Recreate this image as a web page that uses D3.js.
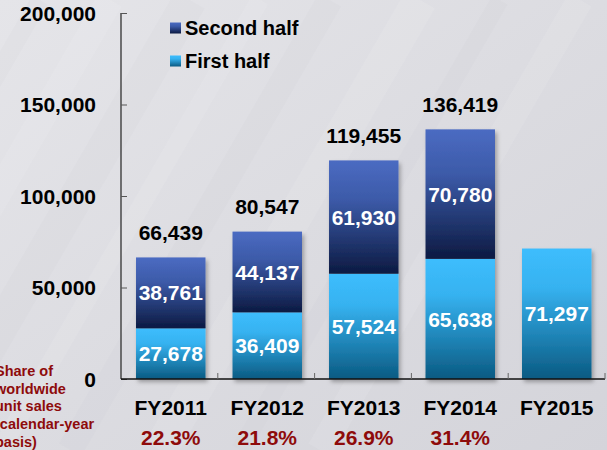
<!DOCTYPE html>
<html><head><meta charset="utf-8">
<script src="https://cdn.jsdelivr.net/npm/d3@7"></script>
<style>html,body{margin:0;padding:0;}svg{display:block;}text{font-family:"Liberation Sans",Arial,sans-serif;font-weight:bold;}</style>
</head><body>
<script>
const categories = ["FY2011","FY2012","FY2013","FY2014","FY2015"];
const firstHalf = [27678, 36409, 57524, 65638, 71297];
const secondHalf = [38761, 44137, 61930, 70780, null];
const totals = [66439, 80547, 119455, 136419, null];
const shares = ["22.3%","21.8%","26.9%","31.4%",""];
const yTicks = [0, 50000, 100000, 150000, 200000];
const seriesNames = ["Second half","First half"];
const noteLines = ["Share of","worldwide","unit sales","(calendar-year","basis)"];

const W = 607, H = 450;
const svg = d3.select("body").append("svg").attr("width", W).attr("height", H);
const defs = svg.append("defs");

const bg = defs.append("linearGradient").attr("id","bg").attr("x1",0).attr("y1",0).attr("x2",1).attr("y2",1);
bg.append("stop").attr("offset","0%").attr("stop-color","#e5e5e9");
bg.append("stop").attr("offset","50%").attr("stop-color","#dcdce1");
bg.append("stop").attr("offset","100%").attr("stop-color","#d4d4da");

const g2 = defs.append("linearGradient").attr("id","gSecond").attr("x1",0).attr("y1",0).attr("x2",0).attr("y2",1);
g2.append("stop").attr("offset","0%").attr("stop-color","#4b6bc2");
g2.append("stop").attr("offset","35%").attr("stop-color","#3c5aa8");
g2.append("stop").attr("offset","100%").attr("stop-color","#0c1a42");
const g1 = defs.append("linearGradient").attr("id","gFirst").attr("x1",0).attr("y1",0).attr("x2",0).attr("y2",1);
g1.append("stop").attr("offset","0%").attr("stop-color","#3dbdfd");
g1.append("stop").attr("offset","30%").attr("stop-color","#36b2f0");
g1.append("stop").attr("offset","100%").attr("stop-color","#0a5a82");

const f = defs.append("filter").attr("id","shadow").attr("x","-20%").attr("y","-20%").attr("width","140%").attr("height","140%");
f.append("feDropShadow").attr("dx",2).attr("dy",3).attr("stdDeviation",2).attr("flood-color","#000").attr("flood-opacity",0.3);

svg.append("rect").attr("width",W).attr("height",H).attr("fill","url(#bg)");
// subtle diagonal streaks
const streaks = svg.append("g").attr("opacity",0.09);
[40,110,190,260,330,420,500,580].forEach((x0,i)=>{
  streaks.append("line").attr("x1",x0).attr("y1",0).attr("x2",x0-260).attr("y2",H)
    .attr("stroke", i%2 ? "#ffffff" : "#c4c4cc").attr("stroke-width", 18 + (i%3)*8);
});

const x = d3.scaleBand().domain(categories).range([122.5, 605]).paddingInner(0.28).paddingOuter(0.14);
const xEdge = d3.scaleBand().domain(categories).range([121, 605]);
const y = d3.scaleLinear().domain([0, 200000]).range([379, 13]);

// bars
const bars = svg.append("g");
categories.forEach((c,i)=>{
  const g = bars.append("g").attr("filter","url(#shadow)");
  const top = (secondHalf[i] != null) ? firstHalf[i] + secondHalf[i] : firstHalf[i];
  g.append("rect").attr("x", x(c)).attr("width", x.bandwidth())
    .attr("y", y(firstHalf[i])).attr("height", y(0) - y(firstHalf[i])).attr("fill","url(#gFirst)");
  if (secondHalf[i] != null) {
    g.append("rect").attr("x", x(c)).attr("width", x.bandwidth())
      .attr("y", y(top)).attr("height", y(firstHalf[i]) - y(top)).attr("fill","url(#gSecond)");
  }
});

// axes
const yAxis = d3.axisRight(y).tickValues(yTicks).tickSize(6).tickFormat("");
const ya = svg.append("g").attr("transform","translate(121,0)").call(yAxis);
ya.select(".domain").attr("d","M0,13V379").attr("stroke","#222").attr("stroke-width",1.2);
ya.selectAll(".tick line").attr("stroke","#555");

const xa = svg.append("g").attr("transform","translate(0,379)");
xa.append("line").attr("x1",121).attr("x2",605).attr("stroke","#111").attr("stroke-width",1.4);
const edges = categories.map(c => xEdge(c) + xEdge.bandwidth());
xa.selectAll("line.tk").data(edges).enter().append("line").attr("class","tk")
  .attr("x1",d=>d).attr("x2",d=>d).attr("y1",0).attr("y2",-6).attr("stroke","#666");

// y tick labels
svg.append("g").selectAll("text").data(yTicks).enter().append("text")
  .attr("x",96).attr("y",d=>y(d)).attr("dy","0.36em").attr("text-anchor","end")
  .attr("font-size",21).attr("fill","#000").text(d3.format(",")) ;

// category labels
svg.append("g").selectAll("text").data(categories).enter().append("text")
  .attr("x",d=>x(d)+x.bandwidth()/2).attr("y",407).attr("dy","0.36em").attr("text-anchor","middle")
  .attr("font-size",21).attr("fill","#000").text(d=>d);

// share labels
svg.append("g").selectAll("text").data(categories).enter().append("text")
  .attr("x",d=>x(d)+x.bandwidth()/2).attr("y",437).attr("dy","0.36em").attr("text-anchor","middle")
  .attr("font-size",21).attr("fill","#8e0b0b").text((d,i)=>shares[i]);

// inner labels
const fmt = d3.format(",");
const inner = svg.append("g").attr("fill","#fff").attr("font-size",21).attr("text-anchor","middle");
categories.forEach((c,i)=>{
  const cx = x(c)+x.bandwidth()/2;
  inner.append("text").attr("x",cx).attr("y",(y(firstHalf[i])+y(0))/2).attr("dy","0.36em").text(fmt(firstHalf[i]));
  if (secondHalf[i] != null) {
    const t = firstHalf[i]+secondHalf[i];
    inner.append("text").attr("x",cx).attr("y",(y(t)+y(firstHalf[i]))/2).attr("dy","0.36em").text(fmt(secondHalf[i]));
  }
});

// totals
svg.append("g").selectAll("text").data(categories).enter().append("text")
  .attr("x",d=>x(d)+x.bandwidth()/2).attr("y",(d,i)=> totals[i]!=null ? y(totals[i]) - 25 : 0)
  .attr("dy","0.36em").attr("text-anchor","middle").attr("font-size",21).attr("fill","#000")
  .text((d,i)=> totals[i]!=null ? fmt(totals[i]) : "");

// legend
const leg = svg.append("g");
seriesNames.forEach((n,i)=>{
  const ly = 28 + i*33;
  leg.append("rect").attr("x",170).attr("y",ly-5.5).attr("width",11).attr("height",11)
    .attr("fill", i===0 ? "url(#gSecond)" : "url(#gFirst)");
  leg.append("text").attr("x",185).attr("y",ly).attr("dy","0.36em").attr("font-size",20).attr("fill","#000").text(n);
});

// note (cut off at the left edge as in the reference)
svg.append("g").selectAll("text").data(noteLines).enter().append("text")
  .attr("x",-5).attr("y",(d,i)=>371 + i*17.6).attr("dy","0.36em")
  .attr("font-size",14.5).attr("fill","#8e0b0b").text(d=>d);
</script>
</body></html>
